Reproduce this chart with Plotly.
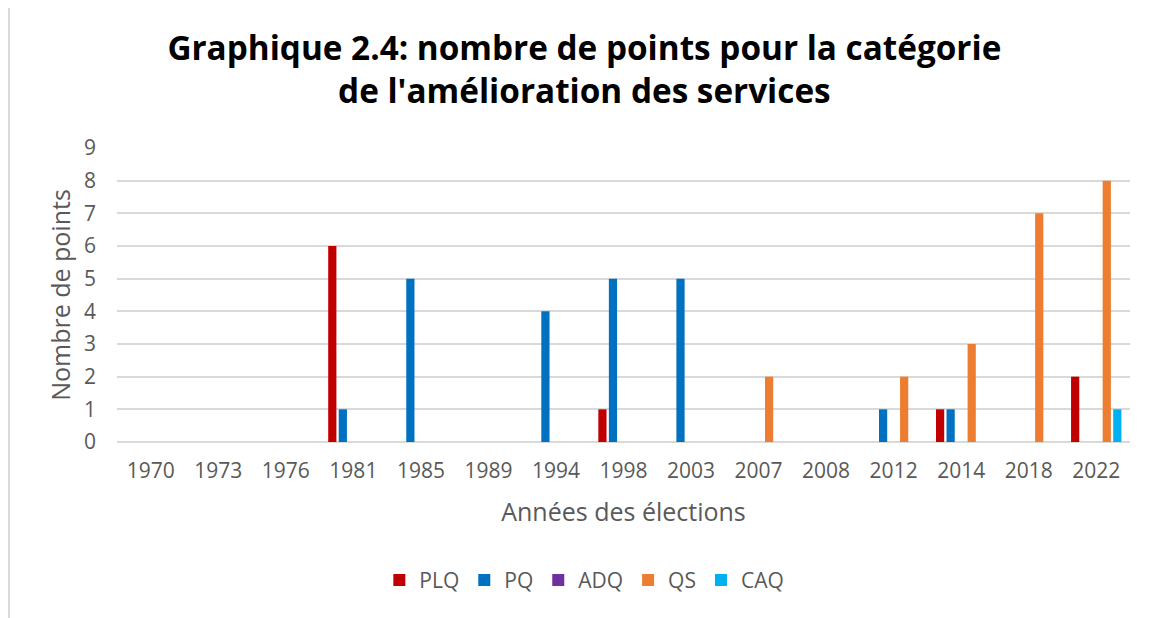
import plotly.graph_objects as go

years = ["1970", "1973", "1976", "1981", "1985", "1989", "1994", "1998",
         "2003", "2007", "2008", "2012", "2014", "2018", "2022"]
plq = [0, 0, 0, 6, 0, 0, 0, 1, 0, 0, 0, 0, 1, 0, 2]
pq = [0, 0, 0, 1, 5, 0, 4, 5, 5, 0, 0, 1, 1, 0, 0]
adq = [0, 0, 0, 0, 0, 0, 0, 0, 0, 0, 0, 0, 0, 0, 0]
qs = [0, 0, 0, 0, 0, 0, 0, 0, 0, 2, 0, 2, 3, 7, 8]
caq = [0, 0, 0, 0, 0, 0, 0, 0, 0, 0, 0, 0, 0, 0, 1]

series = [
    ("PLQ", plq, "#C00000"),
    ("PQ", pq, "#0070C0"),
    ("ADQ", adq, "#7030A0"),
    ("QS", qs, "#ED7D31"),
    ("CAQ", caq, "#00B0F0"),
]

FONT = "Open Sans"
GREY = "#595959"

fig = go.Figure()
for name, vals, col in series:
    fig.add_trace(go.Bar(
        x=years, y=[v if v else None for v in vals], name=name,
        marker=dict(color=col, line=dict(width=0)),
    ))

ML, MR, MT, MB = 109, 33, 140, 184
PW = 1155 - ML - MR

fig.update_layout(
    width=1155, height=618,
    paper_bgcolor="white", plot_bgcolor="white",
    barmode="group", bargap=0.22, bargroupgap=0.22,
    margin=dict(l=ML, r=MR, t=MT, b=MB),
    font=dict(family=FONT, color=GREY, size=21),
    title=dict(
        text="<b>Graphique 2.4: nombre de points pour la catégorie<br>de l'amélioration des services</b>",
        x=0.499, xanchor="center", y=0.916, yanchor="middle",
        font=dict(family=FONT, size=33.3, color="black"),
    ),
    xaxis=dict(
        type="category", showgrid=False, showline=False, ticks="",
        ticklabelstandoff=14,
        tickfont=dict(size=21, color=GREY),
        title=dict(text="Années des élections", font=dict(size=25, color=GREY), standoff=20),
    ),
    yaxis=dict(
        range=[0, 9], dtick=1, showgrid=True, gridcolor="#D9D9D9", gridwidth=1.5,
        zeroline=True, zerolinecolor="#D9D9D9", zerolinewidth=1.5,
        showline=False, ticks="", ticklabelstandoff=20,
        tickfont=dict(size=21, color=GREY),
        title=dict(text="Nombre de points", font=dict(size=25, color=GREY), standoff=6),
    ),
    legend=dict(
        orientation="h", xref="container", yref="container",
        x=0.499, xanchor="center", y=0.074, yanchor="middle",
        font=dict(size=21, color=GREY), itemwidth=30, traceorder="normal",
    ),
    shapes=[dict(type="line", xref="paper", yref="paper",
                 x0=-(ML - 1) / PW, x1=-(ML - 1) / PW, y0=2.0, y1=-0.62,
                 line=dict(color="#D9D9D9", width=2))],
)

fig.write_html("out.html")
